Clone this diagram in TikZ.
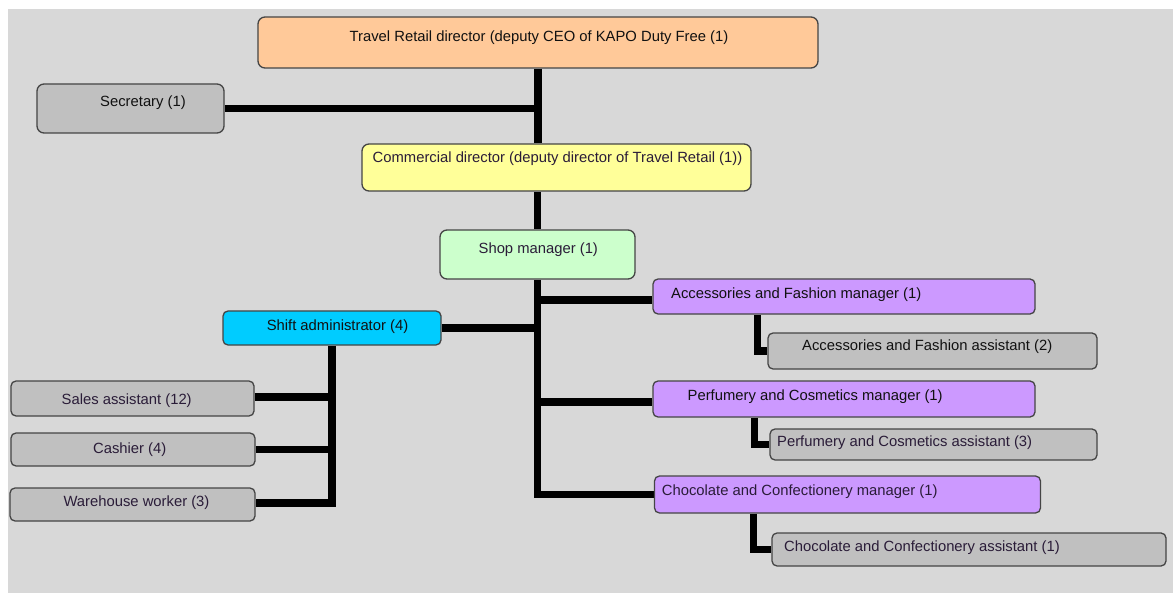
\documentclass[tikz,border=0pt]{standalone}
\usepackage{fontspec}
\setmainfont{Liberation Sans}
\usetikzlibrary{backgrounds}
\definecolor{bgc}{HTML}{D8D8D8}
\definecolor{peach}{HTML}{FFC999}
\definecolor{greyb}{HTML}{C0C0C0}
\definecolor{yel}{HTML}{FFFF99}
\definecolor{grn}{HTML}{CCFFCC}
\definecolor{cya}{HTML}{00CCFF}
\definecolor{pur}{HTML}{CC99FF}
\definecolor{bord}{HTML}{454545}
\definecolor{txa}{HTML}{111111}
\definecolor{txb}{HTML}{2A1C38}
\tikzset{
  box/.style={draw=bord, line width=1.3bp, rounded corners=7bp, inner sep=0pt, minimum width=#1},
  sbox/.style={draw=bord, line width=1.3bp, rounded corners=5bp, inner sep=0pt, minimum width=#1},
  conn/.style={draw=black, line width=7.5bp, line join=miter},
  lbl/.style={inner sep=0pt, anchor=base, font=\fontsize{14.8bp}{17bp}\selectfont, text=txa},
  lblw/.style={lbl, anchor=base west},
}
\begin{document}
\begin{tikzpicture}[x=1bp,y=-1bp]
\useasboundingbox (0,0) rectangle (1173,593);

% boxes
\node[box=560bp, fill=peach, minimum height=51bp] (trd) at (538,42.5) {};
\node[box=187bp, fill=greyb, minimum height=49bp] (sec) at (130.5,108.5) {};
\node[box=389bp, fill=yel, minimum height=47bp] (cd) at (556.5,167.5) {};
\node[box=195bp, fill=grn, minimum height=49bp] (sm) at (537.5,254.5) {};
\node[sbox=218bp, fill=cya, minimum height=34bp] (sa) at (332,328) {};
\node[sbox=243bp, fill=greyb, minimum height=35bp] (sales) at (132.5,398.5) {};
\node[sbox=244bp, fill=greyb, minimum height=33bp] (cash) at (133,449.5) {};
\node[sbox=245bp, fill=greyb, minimum height=33bp] (wh) at (132.5,504.5) {};
\node[sbox=382bp, fill=pur, minimum height=35bp] (am) at (844,296.5) {};
\node[sbox=329bp, fill=greyb, minimum height=36bp] (aa) at (932.5,351) {};
\node[sbox=382bp, fill=pur, minimum height=36bp] (pm) at (844,399) {};
\node[sbox=327bp, fill=greyb, minimum height=31bp] (pa) at (933.5,444.5) {};
\node[sbox=386bp, fill=pur, minimum height=37bp] (cm) at (847.5,494.5) {};
\node[sbox=394bp, fill=greyb, minimum height=33bp] (ca) at (969,549.5) {};

% labels
\node[lbl] (ttrd) at (539,42) {Travel Retail director (deputy CEO of KAPO Duty Free (1)};
\node[lbl] (tsec) at (143,107) {Secretary (1)};
\node[lbl, text=txb] (tcd) at (557.5,163) {Commercial director (deputy director of Travel Retail (1))};
\node[lbl, text=txb] (tsm) at (538.3,254) {Shop manager (1)};
\node[lbl] (tsa) at (337.5,330.7) {Shift administrator (4)};
\node[lbl, text=txb] (tsales) at (126.7,404) {Sales assistant (12)};
\node[lbl, text=txb] (tcash) at (129.7,453.3) {Cashier (4)};
\node[lbl, text=txb] (twh) at (136.5,506.7) {Warehouse worker (3)};
\node[lblw] (tam) at (671,298.3) {Accessories and Fashion manager (1)};
\node[lblw] (taa) at (802,350.7) {Accessories and Fashion assistant (2)};
\node[lblw] (tpm) at (687.5,400) {Perfumery and Cosmetics manager (1)};
\node[lblw, text=txb] (tpa) at (777,446) {Perfumery and Cosmetics assistant (3)};
\node[lblw, text=txb] (tcm) at (661.7,495.7) {Chocolate and Confectionery manager (1)};
\node[lblw, text=txb] (tca) at (784,551.7) {Chocolate and Confectionery assistant (1)};

% connector helper coordinates
\coordinate (ajx) at ([xshift=-10bp]aa.west);
\coordinate (pjx) at ([xshift=-15bp]pa.west);
\coordinate (cjx) at ([xshift=-18bp]ca.west);

% background and connectors
\begin{scope}[on background layer]
\fill[white] (0,0) rectangle (1173,593);
\fill[bgc] (8,9) rectangle (1173,593);
\draw[conn] (trd.south) -- (trd.south |- cd.north);
\draw[conn] (sec.east) -- (sec.east -| trd.south);
\draw[conn] (cd.south -| sm.north) -- (sm.north);
\draw[conn] (sm.south) |- (cm.west);
\draw[conn] ([yshift=-3.5bp]am.west -| sm.south) -- ([yshift=-3.5bp]am.west);
\draw[conn] ([yshift=-3bp]pm.west -| sm.south) -- ([yshift=-3bp]pm.west);
\draw[conn] (sa.east) -- (sa.east -| sm.south);
\draw[conn] (sa.south) |- ([yshift=1.5bp]wh.east);
\draw[conn] ([yshift=1.5bp]sales.east) -- ([yshift=1.5bp]sales.east -| sa.south);
\draw[conn] (cash.east) -- (cash.east -| sa.south);
\draw[conn] (ajx |- am.south) |- (aa.west);
\draw[conn] (pjx |- pm.south) |- (pa.west);
\draw[conn] (cjx |- cm.south) |- (ca.west);
\end{scope}
\end{tikzpicture}
\end{document}
